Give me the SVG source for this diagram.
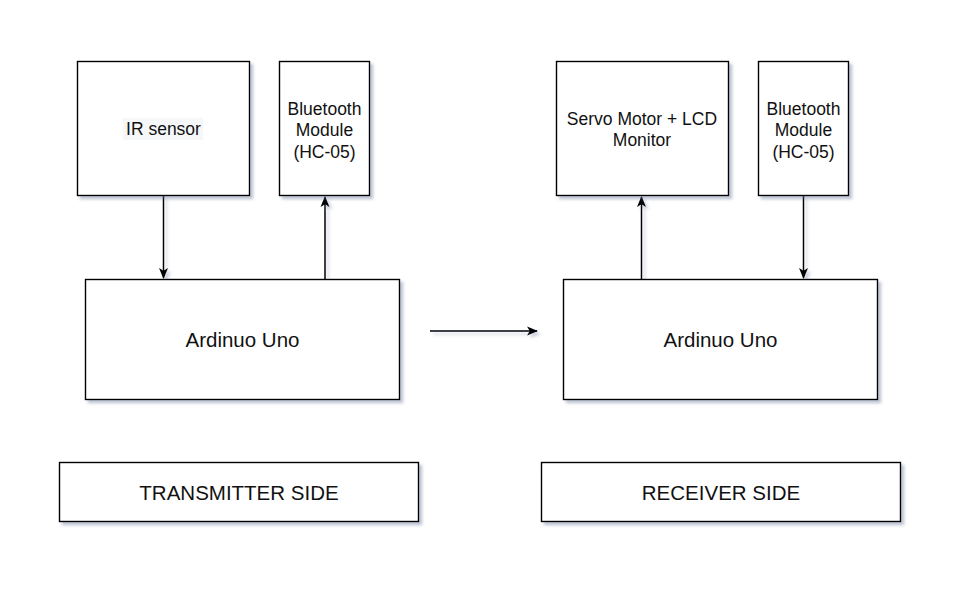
<svg xmlns="http://www.w3.org/2000/svg" width="977" height="602" viewBox="0 0 977 602">
<defs>
<filter id="sh" x="-10%" y="-10%" width="130%" height="130%">
<feDropShadow dx="3" dy="3" stdDeviation="1.8" flood-color="#5a6a90" flood-opacity="0.4"/>
</filter>
<filter id="shl" filterUnits="userSpaceOnUse" x="0" y="0" width="977" height="602">
<feDropShadow dx="3" dy="3" stdDeviation="1.8" flood-color="#5a6a90" flood-opacity="0.3"/>
</filter>
<marker id="ah" viewBox="0 0 11 10" refX="10" refY="5" markerWidth="11" markerHeight="10" markerUnits="userSpaceOnUse" orient="auto">
<path d="M0,0.5 L11,5 L0,9.5 L2.8,5 Z" fill="#000"/>
</marker>
<style>
.box{fill:#fff;stroke:#000;stroke-width:1.4;filter:url(#sh)}
.t{font-family:"Liberation Sans",Arial,sans-serif;fill:#111;text-anchor:middle}
.s{font-size:17.5px}
.l{font-size:20.5px}
.c{fill:none;stroke:#000;stroke-width:1.5;marker-end:url(#ah)}
</style>
</defs>
<rect width="977" height="602" fill="#fff"/>
<g id="connectors" filter="url(#shl)">
<line class="c" x1="163.5" y1="196" x2="163.5" y2="278"/>
<line class="c" x1="325" y1="279" x2="325" y2="197"/>
<line class="c" x1="430" y1="331" x2="537" y2="331"/>
<line class="c" x1="641.5" y1="279" x2="641.5" y2="197"/>
<line class="c" x1="803.5" y1="196" x2="803.5" y2="278"/>
</g>
<g id="ir-sensor">
<rect class="box" x="77.5" y="61.5" width="172" height="134"/>
<rect x="123" y="118" width="80" height="22" fill="#f6f7f9"/>
<text class="t s" x="163.5" y="134.5">IR sensor</text>
</g>
<g id="bt-tx">
<rect class="box" x="279.5" y="61.5" width="90" height="134"/>
<text class="t s" x="324.5" y="114.5">Bluetooth</text>
<text class="t s" x="324.5" y="136">Module</text>
<text class="t s" x="324.5" y="157.5">(HC-05)</text>
</g>
<g id="arduino-tx">
<rect class="box" x="85.5" y="279.5" width="314" height="120"/>
<text class="t l" x="242.5" y="346.5">Ardinuo Uno</text>
</g>
<g id="servo-lcd">
<rect class="box" x="556.5" y="61.5" width="172" height="134"/>
<text class="t s" x="642" y="124.5">Servo Motor + LCD</text>
<text class="t s" x="642" y="146">Monitor</text>
</g>
<g id="bt-rx">
<rect class="box" x="758.5" y="61.5" width="90" height="134"/>
<text class="t s" x="803.5" y="114.5">Bluetooth</text>
<text class="t s" x="803.5" y="136">Module</text>
<text class="t s" x="803.5" y="157.5">(HC-05)</text>
</g>
<g id="arduino-rx">
<rect class="box" x="563.5" y="279.5" width="314" height="120"/>
<text class="t l" x="720.5" y="346.5">Ardinuo Uno</text>
</g>
<g id="transmitter-side">
<rect class="box" x="59.5" y="462.5" width="359" height="59"/>
<text class="t l" x="239" y="499.5">TRANSMITTER SIDE</text>
</g>
<g id="receiver-side">
<rect class="box" x="541.5" y="462.5" width="359" height="59"/>
<text class="t l" x="721" y="499.5">RECEIVER SIDE</text>
</g>
</svg>
